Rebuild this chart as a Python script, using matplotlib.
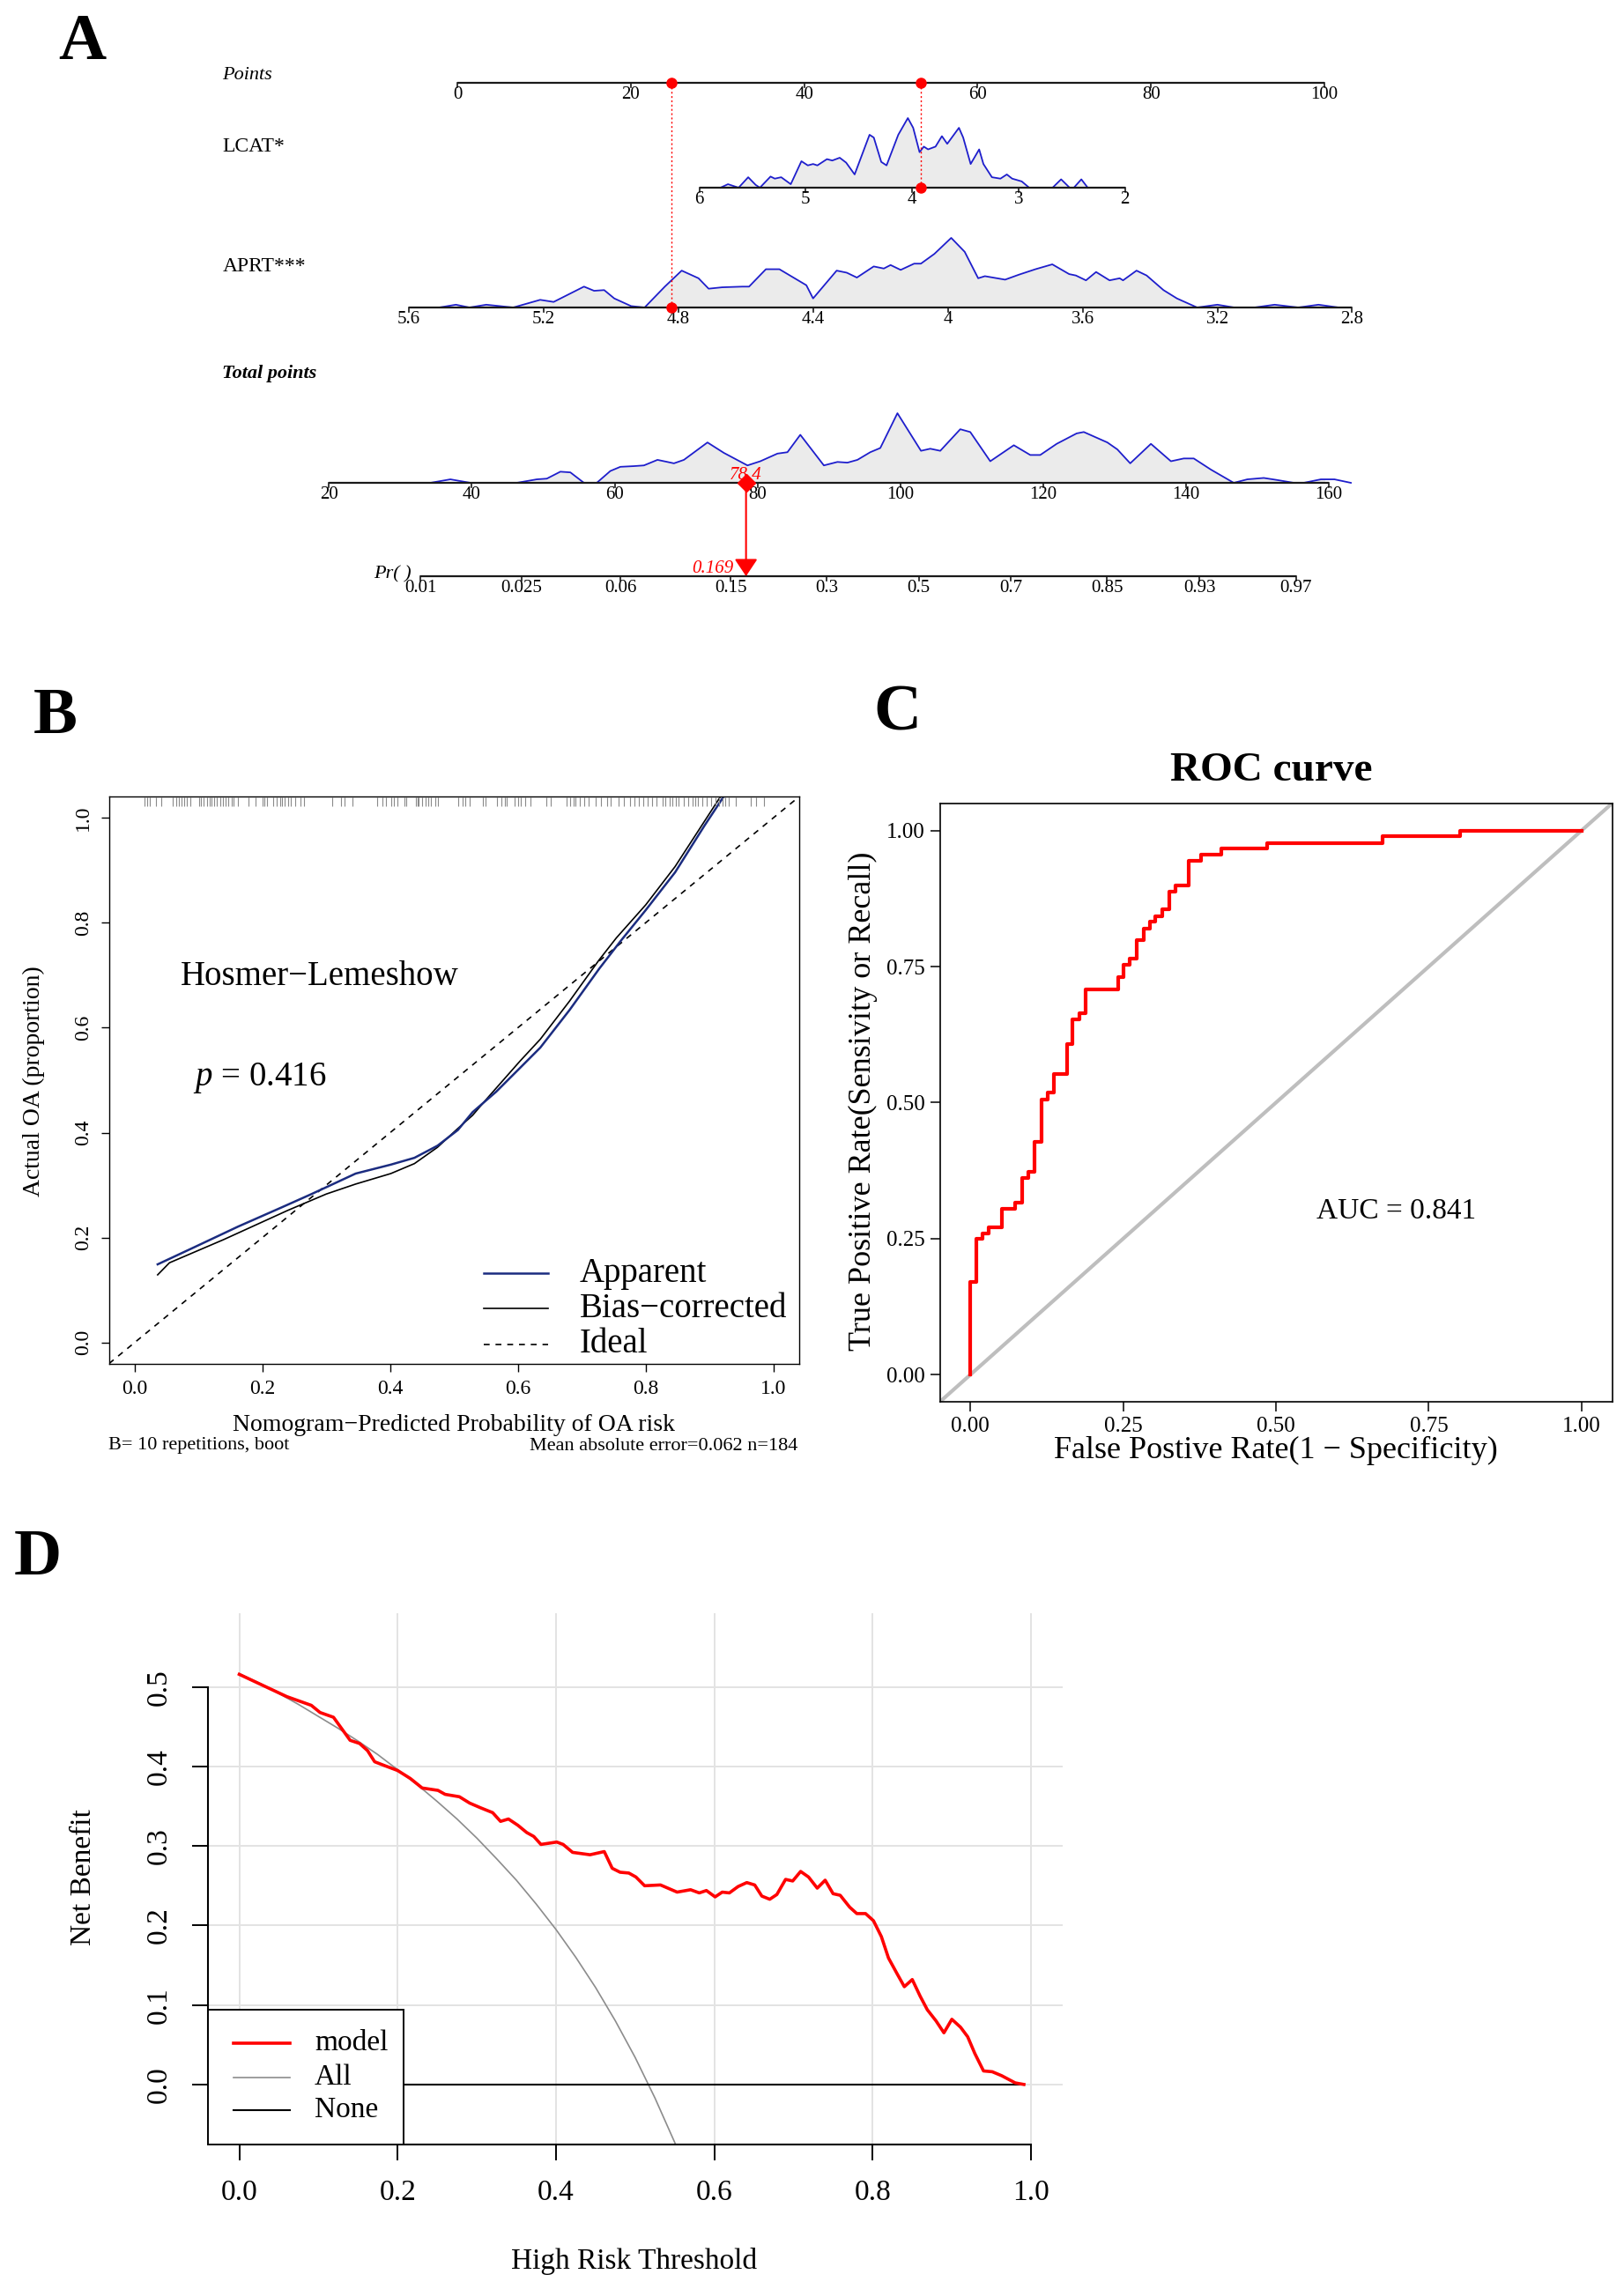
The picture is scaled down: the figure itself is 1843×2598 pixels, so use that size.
import numpy as np
import matplotlib
matplotlib.use('Agg')
import matplotlib.pyplot as plt
from matplotlib.patches import Rectangle

W, H = 1843, 2598

plt.rcParams['font.family'] = ['Liberation Serif', 'DejaVu Serif']
plt.rcParams['mathtext.fontset'] = 'custom'
plt.rcParams['mathtext.rm'] = 'Liberation Serif'
plt.rcParams['mathtext.it'] = 'Liberation Serif:italic'

# ---------------- A: nomogram data ----------------
points_ticks = [0, 20, 40, 60, 80, 100]
lcat_ticks = [6, 5, 4, 3, 2]
aprt_ticks = [5.6, 5.2, 4.8, 4.4, 4.0, 3.6, 3.2, 2.8]
aprt_labels = ['5.6', '5.2', '4.8', '4.4', '4', '3.6', '3.2', '2.8']
total_ticks = [20, 40, 60, 80, 100, 120, 140, 160]
pr_ticks = [0.01, 0.025, 0.06, 0.15, 0.3, 0.5, 0.7, 0.85, 0.93, 0.97]

# relative density curves (value, height 0..1)
lcat_v = [5.80, 5.73, 5.63, 5.54, 5.47, 5.43, 5.33, 5.29, 5.23, 5.14, 5.04, 4.98, 4.93, 4.89, 4.80,
          4.75, 4.68, 4.62, 4.54, 4.40, 4.36, 4.29, 4.24, 4.13, 4.04, 3.99, 3.93, 3.89, 3.85, 3.78,
          3.72, 3.67, 3.56, 3.52, 3.45, 3.37, 3.33, 3.25, 3.17, 3.11, 3.06, 2.97, 2.90, 2.68, 2.60,
          2.52, 2.48, 2.41, 2.35]
lcat_d = [0, .05, 0, .15, .04, 0, .16, .13, .15, .05, .38, .32, .34, .32, .41,
          .39, .43, .36, .19, .76, .72, .37, .32, .76, 1.0, .86, .51, .59, .55, .59,
          .74, .63, .86, .72, .34, .55, .34, .15, .13, .19, .13, .09, 0, 0, .12,
          0, 0, .12, 0]

aprt_v = [5.51, 5.46, 5.42, 5.37, 5.29, 5.21, 5.17, 5.08, 5.05, 5.02, 4.99, 4.94, 4.90, 4.84, 4.79,
          4.74, 4.71, 4.67, 4.61, 4.59, 4.54, 4.50, 4.42, 4.40, 4.33, 4.30, 4.27, 4.22, 4.19, 4.17,
          4.14, 4.10, 4.08, 4.04, 3.99, 3.95, 3.91, 3.89, 3.83, 3.79, 3.74, 3.69, 3.64, 3.62, 3.59,
          3.56, 3.52, 3.49, 3.48, 3.44, 3.41, 3.36, 3.32, 3.26, 3.20, 3.15, 3.09, 3.03, 2.96, 2.90,
          2.84]
aprt_d = [0, .04, 0, .04, 0, .11, .08, .30, .24, .25, .13, .02, 0, .30, .53,
          .42, .27, .29, .30, .30, .55, .55, .32, .13, .53, .50, .43, .59, .56, .61,
          .54, .63, .63, .77, 1.0, .80, .42, .45, .40, .47, .55, .62, .48, .46, .39,
          .51, .39, .42, .39, .53, .46, .25, .13, 0, .04, 0, 0, .04, 0, .04,
          0]

total_v = [34.2, 37.0, 39.8, 46.3, 49.1, 50.5, 52.4, 53.8, 55.7, 57.5, 59.4, 60.8, 62.7, 64.1, 66.0,
           67.4, 68.3, 69.7, 73.0, 75.3, 78.6, 80.4, 82.8, 84.2, 86.0, 89.3, 91.2, 92.6, 94.0, 95.8,
           97.2, 99.6, 102.9, 104.2, 105.6, 108.4, 109.8, 112.6, 115.9, 118.2, 119.6, 121.9, 124.7,
           125.7, 129.0, 130.4, 132.2, 135.1, 137.9, 139.7, 141.1, 143.5, 146.7, 148.6, 150.9, 152.8,
           155.1, 156.5, 158.9, 160.8, 163.1]
total_d = [0, .05, 0, 0, .05, .06, .16, .15, 0, 0, .17, .23, .24, .25, .33,
           .30, .28, .33, .58, .43, .25, .31, .42, .44, .69, .25, .30, .29, .33, .44,
           .50, 1.0, .46, .49, .46, .77, .73, .31, .54, .40, .40, .56, .71,
           .73, .58, .48, .28, .56, .31, .35, .35, .19, 0, .05, .07, .04,
           0, 0, .05, .05, 0]

obs_lcat = 3.92
obs_aprt = 4.82
obs_total = 78.4
obs_prob = 0.169
total_at_half = 102.6   # total points where Pr = 0.5

# scales: (value at left end, value at right end, points at left, points at right)
lcat_scale = (6, 2, 27.9, 77.0)
aprt_scale = (5.6, 2.8, -5.6, 103.2)
total_scale = (20, 160, -14.8, 100.5)

# ---------------- B: calibration ----------------
app_x = [0.036, 0.094, 0.162, 0.231, 0.277, 0.346, 0.401, 0.438, 0.474, 0.506, 0.529, 0.566,
         0.603, 0.635, 0.681, 0.727, 0.760, 0.800, 0.846, 0.892, 0.924]
app_y = [0.149, 0.182, 0.221, 0.258, 0.283, 0.322, 0.339, 0.352, 0.375, 0.405, 0.439, 0.478,
         0.523, 0.562, 0.634, 0.712, 0.764, 0.824, 0.896, 0.985, 1.044]
bc_x = [0.036, 0.0545, 0.139, 0.240, 0.300, 0.346, 0.401, 0.438, 0.474, 0.506, 0.529, 0.548,
        0.603, 0.635, 0.681, 0.727, 0.754, 0.800, 0.846, 0.919]
bc_y = [0.129, 0.152, 0.196, 0.252, 0.283, 0.302, 0.322, 0.341, 0.372, 0.408, 0.433, 0.460,
        0.536, 0.578, 0.651, 0.729, 0.771, 0.834, 0.907, 1.044]
rug_p = [0.015, 0.020, 0.024, 0.034, 0.042, 0.060, 0.065, 0.069, 0.074, 0.077, 0.082, 0.087,
         0.101, 0.104, 0.108, 0.113, 0.117, 0.120, 0.124, 0.129, 0.134, 0.138, 0.143, 0.147,
         0.152, 0.155, 0.161, 0.178, 0.189, 0.200, 0.203, 0.207, 0.217, 0.223, 0.228, 0.231,
         0.235, 0.240, 0.245, 0.252, 0.260, 0.265, 0.309, 0.323, 0.328, 0.341, 0.380, 0.388,
         0.394, 0.401, 0.406, 0.411, 0.422, 0.425, 0.440, 0.443, 0.445, 0.450, 0.455, 0.459,
         0.464, 0.470, 0.475, 0.507, 0.514, 0.517, 0.524, 0.545, 0.549, 0.567, 0.574, 0.579,
         0.583, 0.595, 0.600, 0.604, 0.612, 0.620, 0.644, 0.651, 0.676, 0.682, 0.687, 0.690,
         0.697, 0.704, 0.711, 0.722, 0.730, 0.739, 0.745, 0.757, 0.766, 0.775, 0.782, 0.789,
         0.796, 0.803, 0.810, 0.817, 0.826, 0.831, 0.837, 0.842, 0.847, 0.852, 0.860, 0.867,
         0.874, 0.877, 0.882, 0.888, 0.895, 0.902, 0.909, 0.915, 0.920, 0.924, 0.930, 0.941,
         0.964, 0.973, 0.985]

# ---------------- C: ROC ----------------
roc_fpr = [0.000, 0.000, 0.009, 0.020, 0.030, 0.052, 0.073, 0.084, 0.095, 0.105, 0.116, 0.127,
           0.137, 0.158, 0.167, 0.178, 0.188, 0.242, 0.250, 0.261, 0.272, 0.283, 0.293, 0.303,
           0.314, 0.325, 0.336, 0.357, 0.378, 0.411, 0.485, 0.675, 0.801, 1.000]
roc_tpr = [0.000, 0.170, 0.249, 0.260, 0.270, 0.305, 0.316, 0.361, 0.372, 0.428, 0.506, 0.518,
           0.552, 0.608, 0.653, 0.664, 0.708, 0.731, 0.753, 0.765, 0.799, 0.820, 0.832, 0.843,
           0.855, 0.888, 0.899, 0.944, 0.955, 0.967, 0.977, 0.989, 1.000, 1.000]
auc = 0.841

# ---------------- D: decision curve ----------------
pt_model = [0.00, 0.06, 0.091, 0.102, 0.119, 0.14, 0.152, 0.162, 0.171, 0.184, 0.20, 0.216, 0.231,
            0.251, 0.26, 0.278, 0.291, 0.305, 0.32, 0.33, 0.34, 0.352, 0.363, 0.372, 0.381, 0.401,
            0.409, 0.421, 0.443, 0.461, 0.471, 0.481, 0.492, 0.501, 0.512, 0.532, 0.553, 0.570,
            0.581, 0.590, 0.601, 0.610, 0.619, 0.630, 0.641, 0.651, 0.660, 0.670, 0.679, 0.690,
            0.699, 0.709, 0.719, 0.730, 0.740, 0.750, 0.759, 0.771, 0.780, 0.791, 0.801, 0.811,
            0.820, 0.831, 0.840, 0.850, 0.860, 0.869, 0.880, 0.890, 0.900, 0.911, 0.920, 0.929,
            0.940, 0.951, 0.963, 0.980, 0.991]
nb_model = [0.516, 0.488, 0.477, 0.468, 0.462, 0.433, 0.429, 0.420, 0.406, 0.401, 0.395, 0.385, 0.373,
            0.370, 0.365, 0.362, 0.354, 0.348, 0.342, 0.331, 0.334, 0.326, 0.317, 0.312, 0.302, 0.305,
            0.302, 0.292, 0.289, 0.293, 0.272, 0.267, 0.266, 0.261, 0.250, 0.251, 0.242, 0.245,
            0.241, 0.244, 0.236, 0.242, 0.241, 0.249, 0.254, 0.251, 0.237, 0.233, 0.239, 0.258,
            0.256, 0.268, 0.261, 0.247, 0.257, 0.240, 0.238, 0.223, 0.215, 0.215, 0.206, 0.186,
            0.159, 0.139, 0.123, 0.132, 0.111, 0.094, 0.080, 0.065, 0.082, 0.072, 0.060, 0.039,
            0.017, 0.016, 0.011, 0.002, 0.000]
pt_all = [0.0, 0.025, 0.05, 0.075, 0.1, 0.125, 0.15, 0.175, 0.2, 0.225, 0.25, 0.275, 0.3, 0.325,
          0.35, 0.375, 0.4, 0.425, 0.45, 0.475, 0.5, 0.525, 0.55, 0.555]
nb_all = [0.517, 0.505, 0.492, 0.478, 0.463, 0.448, 0.432, 0.415, 0.396, 0.377, 0.356, 0.334, 0.310,
          0.284, 0.257, 0.227, 0.195, 0.160, 0.122, 0.080, 0.034, -0.017, -0.073, -0.085]


def rect(l, t, r, b):
    return [l / W, 1 - b / H, (r - l) / W, (b - t) / H]


def fy(y):
    return 1 - y / H


fig = plt.figure(figsize=(W / 100, H / 100), dpi=100)

# panel letters
for letter, x, y in [('A', 66, 67), ('B', 38, 832), ('C', 991, 829), ('D', 16, 1787)]:
    fig.text(x / W, fy(y), letter, fontsize=54, fontweight='bold', ha='left', va='baseline')

# =============== A ===============
axA = fig.add_axes(rect(519, 0, 1503, 700))
axA.set_xlim(0, 100)
axA.set_ylim(700, 0)
axA.axis('off')

DENS_H = 79
AXC = '#1A1A1A'


def lin(v, scale):
    v0, v1, p0, p1 = scale
    return p0 + (np.asarray(v, float) - v0) * (p1 - p0) / (v1 - v0)


def draw_row(y0, xt, labels, dens_x=None, dens_h=None):
    if dens_x is not None:
        ys = y0 - np.asarray(dens_h) * DENS_H
        axA.fill_between(dens_x, ys, y0, color='#EBEBEB', lw=0, zorder=1)
        axA.plot(dens_x, ys, color='#1E1ECC', lw=1.3, zorder=2, clip_on=False)
    axA.plot([min(xt), max(xt)], [y0, y0], color=AXC, lw=1.6, zorder=3,
             solid_capstyle='butt', clip_on=False)
    for x, lab in zip(xt, labels):
        axA.plot([x, x], [y0, y0 + 5], color=AXC, lw=1.2, zorder=3, clip_on=False)
        axA.text(x, y0 + 4, lab, ha='center', va='top', fontsize=15)


y_points, y_lcat, y_aprt, y_total, y_pr = 94, 213, 349, 548, 654
lab_x = -27.1

draw_row(y_points, points_ticks, [str(t) for t in points_ticks])
draw_row(y_lcat, lin(lcat_ticks, lcat_scale), [str(t) for t in lcat_ticks],
         lin(lcat_v, lcat_scale), lcat_d)
draw_row(y_aprt, lin(aprt_ticks, aprt_scale), aprt_labels,
         lin(aprt_v, aprt_scale), aprt_d)
draw_row(y_total, lin(total_ticks, total_scale), [str(t) for t in total_ticks],
         lin(total_v, total_scale), total_d)

slope = -np.log(obs_prob / (1 - obs_prob)) / (total_at_half - obs_total)
pr_lp = np.log(np.array(pr_ticks) / (1 - np.array(pr_ticks)))
pr_total = total_at_half + pr_lp / slope
draw_row(y_pr, lin(pr_total, total_scale), [f'{p:g}' for p in pr_ticks])

axA.text(lab_x, 85, 'Points', fontsize=16, style='italic', va='center')
axA.text(lab_x, 167, 'LCAT*', fontsize=17, va='center')
axA.text(lab_x, 302, 'APRT***', fontsize=17, va='center')
axA.text(lab_x, 424, 'Total points', fontsize=16, style='italic', fontweight='bold', va='center')
axA.text(lin(pr_total[0], total_scale) - 1.0, 652, 'Pr( )', fontsize=16, style='italic',
         ha='right', va='center')

# observation markers
px_aprt = lin(obs_aprt, aprt_scale)
px_lcat = lin(obs_lcat, lcat_scale)
for px, yv in [(px_aprt, y_aprt), (px_lcat, y_lcat)]:
    axA.plot([px, px], [y_points, yv], color='red', lw=1.0, ls=(0, (1.5, 2)), zorder=4)
    axA.plot([px, px], [y_points, yv], 'o', color='red', ms=8, zorder=5, clip_on=False)

px_total = lin(obs_total, total_scale)
axA.annotate('', xy=(px_total, y_pr), xytext=(px_total, y_total),
             arrowprops=dict(arrowstyle='-|>,head_length=0.6,head_width=0.4', color='red',
                             lw=1.5, mutation_scale=20, shrinkA=0, shrinkB=0), zorder=5)
axA.plot(px_total, y_total, 'D', color='red', ms=10, zorder=6)
axA.text(px_total, 539, f'{obs_total:g}', color='red', fontsize=15, style='italic',
         ha='center', va='center', zorder=7)
axA.text(px_total - 1.4, 645, f'{obs_prob:g}', color='red', fontsize=15, style='italic',
         ha='right', va='center', zorder=7)

# =============== B ===============
axB = fig.add_axes(rect(123.8, 904.3, 906.8, 1547.6))
axB.set_xlim(-0.04, 1.04)
axB.set_ylim(-0.04, 1.04)
axB.axline((0, 0), (1, 1), color='black', lw=1.2, ls=(0, (4, 4)))
axB.plot(bc_x, bc_y, color='black', lw=1.2)
axB.plot(app_x, app_y, color='#1B2C80', lw=1.8)
axB.vlines(rug_p, 1.022, 1.038, color='#8A8A8A', lw=0.8)
ticksB = [0, 0.2, 0.4, 0.6, 0.8, 1.0]
axB.set_xticks(ticksB)
axB.set_yticks(ticksB)
axB.set_xticklabels([f'{t:.1f}' for t in ticksB])
axB.set_yticklabels([f'{t:.1f}' for t in ticksB], rotation=90, va='center')
axB.tick_params(direction='out', length=6.5, width=1, labelsize=17, pad=7)
for s in axB.spines.values():
    s.set_linewidth(1.0)

axB.text(0.072, 0.697, 'Hosmer\u2212Lemeshow', fontsize=28, va='center')
axB.text(0.091, 0.504, '$p$ = 0.416', fontsize=28, va='center')
legB = [('Apparent', '#1B2C80', '-', 1.8, 0.132),
        ('Bias\u2212corrected', 'black', '-', 1.2, 0.065),
        ('Ideal', 'black', (0, (4, 4)), 1.2, -0.003)]
for name, col, ls, lw, yy in legB:
    axB.plot([0.547, 0.647], [yy, yy], color=col, ls=ls, lw=lw)
    axB.text(0.696, yy, name, fontsize=28, va='center')

fig.text(515 / W, fy(1618), 'Nomogram\u2212Predicted Probability of OA risk', fontsize=20,
         ha='center', va='center')
fig.text(122.6 / W, fy(1641), 'B= 10 repetitions, boot', fontsize=16, ha='left', va='center')
fig.text(905 / W, fy(1641), 'Mean absolute error=0.062 n=184', fontsize=16, ha='right', va='center')
fig.text(38 / W, fy(1227), 'Actual OA (proportion)', fontsize=20, rotation=90,
         ha='center', va='center')

# =============== C ===============
axC = fig.add_axes(rect(1066.7, 911.8, 1829.5, 1591))
axC.set_xlim(-0.05, 1.05)
axC.set_ylim(-0.05, 1.05)
axC.axline((0, 0), (1, 1), color='#BEBEBE', lw=3)
axC.step(roc_fpr, roc_tpr, where='post', color='#FF0000', lw=3)
ticksC = [0, 0.25, 0.5, 0.75, 1.0]
axC.set_xticks(ticksC)
axC.set_yticks(ticksC)
axC.set_xticklabels([f'{t:.2f}' for t in ticksC])
axC.set_yticklabels([f'{t:.2f}' for t in ticksC])
axC.tick_params(direction='out', length=8, width=1.1, labelsize=18, pad=4)
for s in axC.spines.values():
    s.set_linewidth(1.2)
axC.text(0.566, 0.300, f'AUC = {auc:.3f}', fontsize=24, va='center')
fig.text(1442.5 / W, fy(875), 'ROC curve', fontsize=34, fontweight='bold', ha='center', va='center')
fig.text(1448 / W, fy(1646), 'False Postive Rate(1 \u2212 Specificity)', fontsize=26,
         ha='center', va='center')
fig.text(979 / W, fy(1250), 'True Positive Rate(Sensivity or Recall)', fontsize=26, rotation=90,
         ha='center', va='center')

# =============== D ===============
axD = fig.add_axes(rect(235.6, 1830.9, 1206, 2433.5))
axD.set_xlim(-0.04, 1.04)
axD.set_ylim(-0.075, 0.593)
xgrid = [0, 0.2, 0.4, 0.6, 0.8, 1.0]
ygrid = [0, 0.1, 0.2, 0.3, 0.4, 0.5]
for g in xgrid:
    axD.axvline(g, color='#E3E3E3', lw=1.4, zorder=0)
for g in ygrid:
    axD.axhline(g, color='#E3E3E3', lw=1.4, zorder=0)
axD.plot(pt_all, nb_all, color='#8C8C8C', lw=1.2, zorder=2)
axD.plot(pt_model, np.zeros(len(pt_model)), color='black', lw=1.5, zorder=2)
axD.plot(pt_model, nb_model, color='#FF0000', lw=2.6, zorder=3)
axD.set_xticks(xgrid)
axD.set_yticks(ygrid)
axD.set_xticklabels([f'{t:.1f}' for t in xgrid])
axD.set_yticklabels([f'{t:.1f}' for t in ygrid], rotation=90, va='center')
axD.tick_params(direction='out', length=13, width=1.4, labelsize=24, pad=16)
axD.spines['top'].set_visible(False)
axD.spines['right'].set_visible(False)
axD.spines['left'].set_bounds(0, 0.5)
axD.spines['bottom'].set_bounds(0, 1.0)
for s in ('left', 'bottom'):
    axD.spines[s].set_linewidth(1.5)

axD.add_patch(Rectangle((-0.04, -0.075), 0.248, 0.169, facecolor='white', edgecolor='black',
                        lw=1.4, zorder=5, clip_on=False))
legD = [('model', '#FF0000', 2.6, 0.052), ('All', '#8C8C8C', 1.2, 0.009), ('None', 'black', 1.5, -0.032)]
for name, col, lw, yy in legD:
    axD.plot([-0.007, 0.064], [yy, yy], color=col, lw=lw, zorder=6)
    axD.text(0.095, yy, name, fontsize=24, va='center', zorder=6)

fig.text(719.6 / W, fy(2567), 'High Risk Threshold', fontsize=24, ha='center', va='center')
fig.text(94.6 / W, fy(2131), 'Net Benefit', fontsize=24, rotation=90, ha='center', va='center')

fig.savefig('out.png', dpi=100)
